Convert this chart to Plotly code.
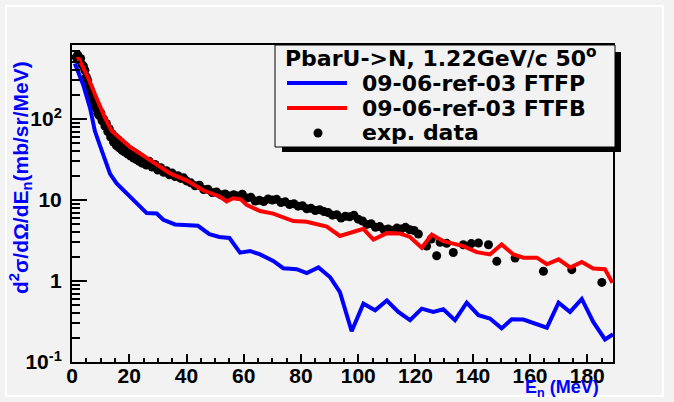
import plotly.graph_objects as go

# Model curves: neutron double-differential cross section vs neutron energy
ftfp_e = [1.0, 3.9, 6.3, 8.0, 10.4, 13.3, 15.6, 19.1, 22.6, 26.1, 29.6, 31.9, 36.0, 40.0,
          44.0, 48.0, 51.5, 55.0, 58.7, 62.2, 65.7, 70.3, 73.8, 78.5, 82.0, 86.1, 90.2,
          93.6, 97.7, 101.8, 105.9, 110.0, 114.0, 118.1, 122.2, 126.2, 129.7, 133.8,
          137.9, 142.0, 146.0, 150.1, 153.6, 157.7, 162.4, 165.9, 170.0, 174.0, 178.1,
          182.1, 186.2, 189.0]
ftfp_v = [486, 265, 137, 71, 40.7, 21, 16, 12, 9.1, 6.9, 6.8, 5.7, 5.0, 4.9,
          4.8, 3.8, 3.5, 3.4, 2.24, 2.35, 2.13, 1.77, 1.44, 1.4, 1.25, 1.47, 1.11,
          0.73, 0.24, 0.525, 0.435, 0.575, 0.415, 0.328, 0.456, 0.415, 0.447, 0.328,
          0.54, 0.378, 0.344, 0.26, 0.337, 0.334, 0.29, 0.265, 0.54, 0.415, 0.6,
          0.313, 0.19, 0.22]

ftfb_e = [1.9, 5.7, 8.6, 11.5, 13.9, 16.8, 20.3, 23.8, 27.3, 30.7, 34.2, 40.0, 45.8,
          51.7, 54.0, 56.3, 59.0, 61.0, 65.7, 70.3, 77.3, 82.0, 89.0, 93.6, 98.3, 101.8,
          105.3, 110.0, 114.6, 118.1, 122.2, 125.7, 129.7, 133.2, 136.7, 141.4, 146.0,
          150.1, 154.2, 157.7, 162.4, 165.9, 170.0, 174.0, 178.1, 182.1, 186.2, 188.8]
ftfb_v = [603, 319, 181, 104, 71, 57, 45, 37.4, 30.7, 25.5, 21.4, 17.5, 13.2,
          11.0, 9.6, 10.5, 10.2, 8.7, 7.3, 6.8, 5.5, 5.4, 4.7, 3.6, 4.1, 4.4,
          3.25, 3.9, 3.85, 3.5, 2.57, 3.74, 3.1, 2.9, 2.7, 2.27, 2.13,
          2.83, 2.13, 1.94, 1.94, 1.61, 1.85, 1.47, 1.72, 1.43, 1.4, 0.95]

# Measured points
exp_e = [1.5, 2.0, 2.5, 3.0, 3.5, 4.0, 4.5, 5.0, 5.5, 6.0, 6.5, 7.0, 7.5, 8.0, 8.5, 9.0,
         9.5, 10.0, 10.5, 11.0, 11.5, 12.0, 12.5, 13.0, 13.5, 14.0, 14.5, 15.0, 15.5,
         16.0, 16.5, 17.0, 17.5, 18.0, 18.5, 19.0, 19.5, 20.0, 20.5, 21.0, 21.5, 22.0,
         22.5, 23.0, 23.5, 24.0, 24.5, 25.0, 26.0, 27.0, 28.0, 29.0, 30.0, 31.0, 32.0,
         33.0, 34.0, 35.0, 36.0, 37.0, 38.0, 39.0, 40.0, 41.5, 43.0, 44.5, 46.0, 47.5,
         49.0, 50.5, 52.0, 53.5, 55.0, 56.5, 58.0, 59.5, 61.0, 62.5, 64.0, 65.5, 67.0,
         68.5, 70.0, 71.5, 73.0, 74.5, 76.0, 77.5, 79.0, 80.5, 82.0, 83.5, 85.0, 86.5,
         88.0, 89.5, 91.0, 92.5, 94.0, 95.5, 97.0, 98.5, 100.0, 101.5, 103.0, 104.5,
         106.0, 107.5, 109.0, 110.5, 112.0, 113.5, 115.0, 116.5, 118.0, 119.5, 121.0,
         123.9, 125.5, 127.4, 128.6, 130.9, 133.2, 136.7, 139.5, 142.0, 145.5, 148.4,
         154.8, 164.7, 174.6, 185.1]
exp_v = [580, 620, 540, 560, 470, 450, 400, 330, 300, 250, 225, 190, 170, 150, 135, 118,
         110, 120, 95, 100, 82, 88, 70, 76, 60, 66, 52, 60, 47,
         56, 44, 52, 41, 48, 39, 45, 37, 42, 35, 40, 33, 38,
         31.5, 36, 30, 34, 28.5, 32, 27, 30, 25.5, 27.5, 23.5, 25, 22,
         23, 20.5, 21.5, 19.5, 20, 18.5, 18.8, 17.2, 16.3, 15.0, 15.2, 13.5, 13.6,
         12.4, 12.6, 11.6, 11.9, 11.2, 11.6, 11.2, 11.8, 10.6, 10.8, 9.7, 9.9, 9.6,
         10.3, 10.0, 10.2, 9.3, 9.5, 8.8, 9.0, 8.4, 8.5, 7.8, 7.9, 7.4, 7.6,
         7.2, 7.0, 6.5, 6.6, 6.0, 6.3, 6.2, 6.5, 5.8, 5.5, 5.0, 5.1,
         4.6, 4.7, 4.3, 4.4, 4.2, 4.5, 4.4, 4.6, 4.3, 4.2, 3.8,
         2.7, 3.3, 2.05, 3.0, 2.92, 2.25, 2.8, 2.9, 2.95, 2.8, 1.75,
         1.92, 1.32, 1.38, 0.96]

x_major = list(range(0, 181, 20))
y_major = [0.1, 1, 10, 100]
y_major_text = ["10<sup>-1</sup>", "1", "10", "10<sup>2</sup>"]
y_minor = [m * d for d in (0.1, 1, 10, 100) for m in range(2, 10)]

legend_title = "PbarU->N, 1.22GeV/c 50<sup>o</sup>"
legend_labels = ["09-06-ref-03 FTFP", "09-06-ref-03 FTFB", "exp. data"]

W, H = 674, 402
L, R, T, B = 72, 613, 45, 362
BG = "#f2f2f2"


def fx(px):
    return (px - L) / (R - L)


def fy(py):
    return (B - py) / (B - T)


fig = go.Figure()
fig.add_trace(go.Scatter(x=exp_e, y=exp_v, mode="markers",
                         marker=dict(color="black", size=9, symbol="circle"),
                         showlegend=False))
fig.add_trace(go.Scatter(x=ftfp_e, y=ftfp_v, mode="lines",
                         line=dict(color="#0000ff", width=4), showlegend=False))
fig.add_trace(go.Scatter(x=ftfb_e, y=ftfb_v, mode="lines",
                         line=dict(color="#ff0000", width=4), showlegend=False))

tick_font = dict(family="Liberation Sans", size=21, color="black", weight="bold")
axis_common = dict(showgrid=False, zeroline=False, showline=True, linecolor="black",
                   linewidth=2, mirror=True, ticks="inside", tickcolor="black",
                   tickfont=tick_font)

fig.update_xaxes(range=[0, 189], tickmode="array", tickvals=x_major, ticklen=8,
                 tickwidth=1.5, ticklabelstandoff=-6,
                 minor=dict(dtick=5, tick0=0, ticks="inside", ticklen=4,
                            tickcolor="black", tickwidth=1.5, showgrid=False),
                 **axis_common)
fig.update_yaxes(type="log", range=[-1, 2.914], tickmode="array", tickvals=y_major,
                 ticktext=y_major_text, ticklen=15, tickwidth=1.5, ticklabelstandoff=4,
                 minor=dict(tickmode="array", tickvals=y_minor, ticks="inside",
                            ticklen=8, tickcolor="black", tickwidth=1.5, showgrid=False),
                 **axis_common)

shapes = []
# outer white frame
shapes.append(dict(type="rect", xref="paper", yref="paper",
                   x0=fx(6), x1=fx(663), y0=fy(396), y1=fy(6),
                   line=dict(color="white", width=2), fillcolor="rgba(0,0,0,0)",
                   layer="below"))
# legend shadow and box
shapes.append(dict(type="rect", xref="paper", yref="paper",
                   x0=fx(615), x1=fx(621), y0=fy(152), y1=fy(52),
                   line=dict(width=0), fillcolor="black"))
shapes.append(dict(type="rect", xref="paper", yref="paper",
                   x0=fx(282), x1=fx(621), y0=fy(152), y1=fy(147),
                   line=dict(width=0), fillcolor="black"))
shapes.append(dict(type="rect", xref="paper", yref="paper",
                   x0=fx(275), x1=fx(615), y0=fy(147), y1=fy(45),
                   line=dict(color="black", width=1), fillcolor=BG))
# legend samples
shapes.append(dict(type="line", xref="paper", yref="paper",
                   x0=fx(287), x1=fx(347), y0=fy(83), y1=fy(83),
                   line=dict(color="#0000ff", width=4)))
shapes.append(dict(type="line", xref="paper", yref="paper",
                   x0=fx(287), x1=fx(347), y0=fy(108), y1=fy(108),
                   line=dict(color="#ff0000", width=4)))
shapes.append(dict(type="circle", xref="paper", yref="paper",
                   x0=fx(313.5), x1=fx(322.5), y0=fy(137.5), y1=fy(128.5),
                   line=dict(width=0), fillcolor="black"))

leg_font = dict(family="DejaVu Sans", size=22, color="black", weight="bold")
annotations = [
    dict(text=legend_title, x=fx(283), y=fy(57), xanchor="left", yanchor="middle",
         font=leg_font),
    dict(text=legend_labels[0], x=fx(360), y=fy(83), xanchor="left", yanchor="middle",
         font=leg_font),
    dict(text=legend_labels[1], x=fx(360), y=fy(108), xanchor="left", yanchor="middle",
         font=leg_font),
    dict(text=legend_labels[2], x=fx(360), y=fy(132), xanchor="left", yanchor="middle",
         font=leg_font),
    dict(text="d<sup>2</sup>σ/dΩ/dE<sub>n</sub>(mb/sr/MeV)", x=fx(21), y=fy(178),
         xanchor="center", yanchor="middle", textangle=-90,
         font=dict(family="Liberation Sans", size=21, color="#0000ff", weight="bold")),
    dict(text="E<sub>n</sub> (MeV)", x=fx(600), y=fy(401), xanchor="right",
         yanchor="bottom", borderpad=0,
         font=dict(family="Liberation Sans", size=18, color="#0000ff", weight="bold")),
]
for a in annotations:
    a.update(xref="paper", yref="paper", showarrow=False)

fig.update_layout(width=W, height=H, margin=dict(l=L, r=W - R, t=T, b=H - B),
                  paper_bgcolor=BG, plot_bgcolor=BG, shapes=shapes,
                  annotations=annotations, showlegend=False)

fig.write_html("out.html")
